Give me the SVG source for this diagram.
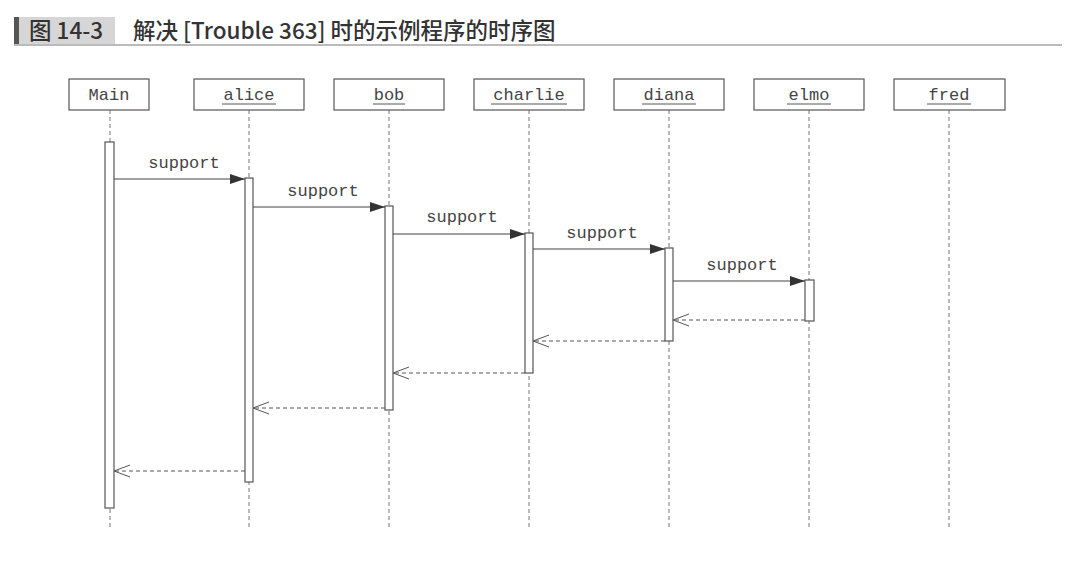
<svg xmlns="http://www.w3.org/2000/svg" width="1072" height="570" viewBox="0 0 1072 570">
<style>
.box{fill:#fff;stroke:#555;stroke-width:1.2}
.lbl{font-family:"Liberation Mono",monospace;font-size:17px;fill:#444;text-anchor:middle}
.ul{stroke:#555;stroke-width:1}
.life{stroke:#777;stroke-width:1;stroke-dasharray:4,3}
.act{fill:#fff;stroke:#555;stroke-width:1.2}
.msg{stroke:#444;stroke-width:1.2;fill:none}
.ret{stroke:#555;stroke-width:1;stroke-dasharray:4,3;fill:none}
.mlbl{font-family:"Liberation Mono",monospace;font-size:17px;fill:#444;text-anchor:middle}
.ttl{font-family:"Noto Sans CJK SC",sans-serif;font-size:22.5px;font-weight:500;fill:#333}
</style>
<defs>
<marker id="fill" markerWidth="16" markerHeight="12" refX="15" refY="6" orient="auto" markerUnits="userSpaceOnUse">
<path d="M0,1 L15,6 L0,11 Z" fill="#333"/>
</marker>
<marker id="open" markerWidth="20" markerHeight="14" refX="17" refY="7" orient="auto" markerUnits="userSpaceOnUse">
<path d="M1,1 L17,7 L1,13" fill="none" stroke="#555" stroke-width="1"/>
</marker>
</defs>
<rect width="1072" height="570" fill="#fff"/>
<g id="title">
<rect x="17" y="17" width="98" height="27" fill="#d6d6d6"/>
<rect x="14" y="17" width="5" height="27" fill="#555"/>
<line x1="14" y1="45" x2="1062" y2="45" stroke="#777" stroke-width="1"/>
<text class="ttl" x="29" y="39">图 14-3</text>
<text class="ttl" x="133" y="39">解决 [Trouble 363] 时的示例程序的时序图</text>
</g>
<g id="lifelines">
<line class="life" x1="110" y1="110" x2="110" y2="528"/>
<line class="life" x1="249" y1="110" x2="249" y2="528"/>
<line class="life" x1="389" y1="110" x2="389" y2="528"/>
<line class="life" x1="529" y1="110" x2="529" y2="528"/>
<line class="life" x1="669" y1="110" x2="669" y2="528"/>
<line class="life" x1="809" y1="110" x2="809" y2="528"/>
<line class="life" x1="949" y1="110" x2="949" y2="528"/>
</g>
<g id="Main">
<rect class="box" x="69" y="79" width="80" height="31"/>
<text class="lbl" x="109" y="100">Main</text>
</g>
<g id="alice">
<rect class="box" x="194" y="79" width="110" height="31"/>
<text class="lbl" x="249" y="100">alice</text>
<line class="ul" x1="222" y1="104" x2="276" y2="104"/>
</g>
<g id="bob">
<rect class="box" x="334" y="79" width="110" height="31"/>
<text class="lbl" x="389" y="100">bob</text>
<line class="ul" x1="373" y1="104" x2="405" y2="104"/>
</g>
<g id="charlie">
<rect class="box" x="474" y="79" width="110" height="31"/>
<text class="lbl" x="529" y="100">charlie</text>
<line class="ul" x1="491" y1="104" x2="567" y2="104"/>
</g>
<g id="diana">
<rect class="box" x="614" y="79" width="110" height="31"/>
<text class="lbl" x="669" y="100">diana</text>
<line class="ul" x1="642" y1="104" x2="696" y2="104"/>
</g>
<g id="elmo">
<rect class="box" x="754" y="79" width="110" height="31"/>
<text class="lbl" x="809" y="100">elmo</text>
<line class="ul" x1="787" y1="104" x2="831" y2="104"/>
</g>
<g id="fred">
<rect class="box" x="894" y="79" width="111" height="31"/>
<text class="lbl" x="949" y="100">fred</text>
<line class="ul" x1="927" y1="104" x2="971" y2="104"/>
</g>
<g id="activations">
<rect class="act" x="105" y="142" width="9" height="366"/>
<rect class="act" x="245" y="178" width="8" height="304"/>
<rect class="act" x="385" y="206" width="8" height="204"/>
<rect class="act" x="525" y="233" width="8" height="140"/>
<rect class="act" x="665" y="248" width="8" height="93"/>
<rect class="act" x="805" y="280" width="9" height="41"/>
</g>
<g id="connectors">
<line class="msg" x1="114" y1="179" x2="245" y2="179" marker-end="url(#fill)"/>
<text class="mlbl" x="184" y="168">support</text>
<line class="msg" x1="253" y1="207" x2="385" y2="207" marker-end="url(#fill)"/>
<text class="mlbl" x="323" y="196">support</text>
<line class="msg" x1="393" y1="234" x2="525" y2="234" marker-end="url(#fill)"/>
<text class="mlbl" x="462" y="222">support</text>
<line class="msg" x1="533" y1="249" x2="665" y2="249" marker-end="url(#fill)"/>
<text class="mlbl" x="602" y="238">support</text>
<line class="msg" x1="673" y1="281" x2="805" y2="281" marker-end="url(#fill)"/>
<text class="mlbl" x="742" y="270">support</text>
<line class="ret" x1="805" y1="320" x2="673" y2="320" marker-end="url(#open)"/>
<line class="ret" x1="665" y1="341" x2="533" y2="341" marker-end="url(#open)"/>
<line class="ret" x1="525" y1="373" x2="393" y2="373" marker-end="url(#open)"/>
<line class="ret" x1="385" y1="408" x2="253" y2="408" marker-end="url(#open)"/>
<line class="ret" x1="245" y1="471" x2="114" y2="471" marker-end="url(#open)"/>
</g>
</svg>
